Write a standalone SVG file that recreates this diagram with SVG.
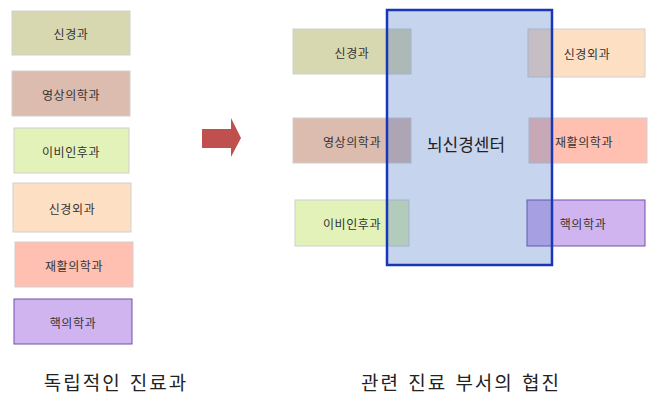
<svg xmlns="http://www.w3.org/2000/svg" width="654" height="396" viewBox="0 0 654 396">
<style>
.b{stroke:#d0d0d0;stroke-width:1}
.p{stroke:#7050a8;stroke-width:1}
.t{font-family:"Noto Sans CJK KR","Noto Sans",sans-serif;font-size:12px;fill:#333;text-anchor:middle;dominant-baseline:central;letter-spacing:0.6px}
.cap{font-family:"Noto Sans CJK KR","Noto Sans",sans-serif;font-size:19px;fill:#222;text-anchor:middle;letter-spacing:2px;word-spacing:2px}
.c1{fill:#d8d8b0}.c2{fill:#dcbcae}.c3{fill:#e2f2b8}.c4{fill:#fde0c4}.c5{fill:#ffc0b2}.c6{fill:#d0b4f0}
</style>
<rect width="654" height="396" fill="#fff"/>
<g id="left-1"><rect class="b c1" x="12" y="11" width="118" height="44"/><text class="t" x="71" y="33">신경과</text></g>
<g id="left-2"><rect class="b c2" x="12" y="71" width="118" height="45"/><text class="t" x="71" y="94">영상의학과</text></g>
<g id="left-3"><rect class="b c3" x="14" y="128" width="115" height="45"/><text class="t" x="71" y="151">이비인후과</text></g>
<g id="left-4"><rect class="b c4" x="13" y="183" width="118" height="49"/><text class="t" x="72" y="208">신경외과</text></g>
<g id="left-5"><rect class="b c5" x="15" y="242" width="118" height="45"/><text class="t" x="74" y="265">재활의학과</text></g>
<g id="left-6"><rect class="p c6" x="14" y="299" width="118" height="45"/><text class="t" x="73" y="322">핵의학과</text></g>
<text class="cap" x="116" y="390">독립적인 진료과</text>
<g id="arrow"><polygon points="202,129 231,129 231,118 241,138 231,157 231,148 202,148" fill="#c0504d"/></g>
<g id="right-1"><rect class="b c1" x="293" y="29" width="118" height="45"/><text class="t" x="352" y="52">신경과</text></g>
<g id="right-2"><rect class="b c2" x="293" y="118" width="118" height="45"/><text class="t" x="352" y="141">영상의학과</text></g>
<g id="right-3"><rect class="b c3" x="295" y="200" width="114" height="46"/><text class="t" x="352" y="223">이비인후과</text></g>
<g id="right-4"><rect class="b c4" x="528" y="29" width="117" height="48"/><text class="t" x="587" y="53">신경외과</text></g>
<g id="right-5"><rect class="b c5" x="529" y="118" width="118" height="45"/><text class="t" x="584" y="141">재활의학과</text></g>
<g id="right-6"><rect class="p c6" x="527" y="200" width="118" height="46"/><text class="t" x="583" y="223">핵의학과</text></g>
<g id="center"><rect x="387" y="10" width="165" height="255" fill="#4472c4" fill-opacity="0.3" stroke="#1836b8" stroke-width="2.5"/><text x="466" y="143" font-family="'Noto Sans CJK KR','Noto Sans',sans-serif" font-size="17" fill="#222" text-anchor="middle" dominant-baseline="central">뇌신경센터</text></g>
<text class="cap" x="461" y="390">관련 진료 부서의 협진</text>
<g id="connectors"></g>
</svg>
